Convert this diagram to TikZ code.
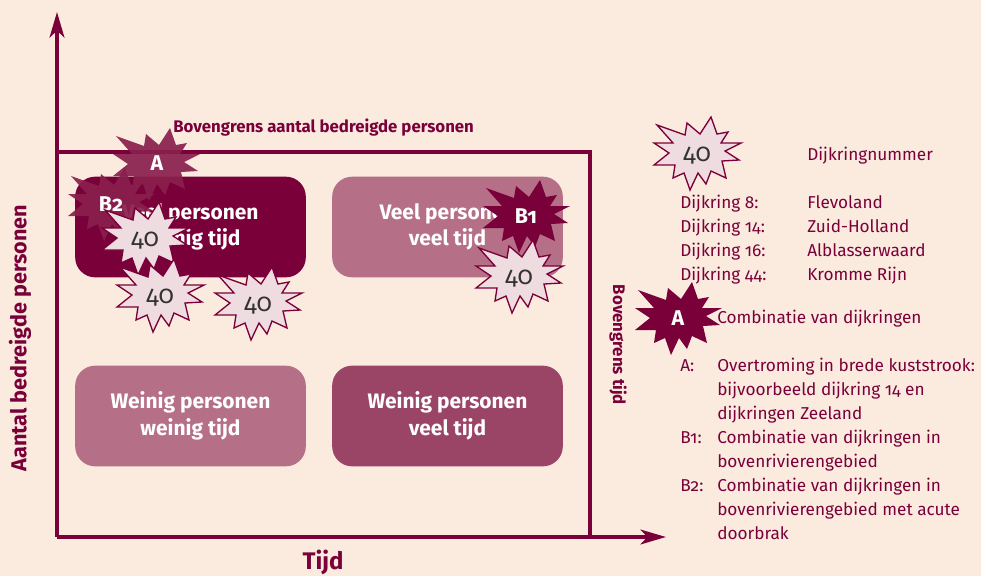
\documentclass[tikz,border=0pt]{standalone}
\usepackage{fontspec}
\setmainfont[Numbers=OldStyle]{Fira Sans}
\usetikzlibrary{arrows.meta}
\definecolor{paper}{HTML}{FBEBDF}
\definecolor{wine}{HTML}{7A0039}
\definecolor{winesoft}{HTML}{8A1F4D}
\definecolor{winemid}{HTML}{9A4565}
\definecolor{winelight}{HTML}{B56F87}
\definecolor{burstfill}{HTML}{EEDCE0}
\definecolor{burstnum}{HTML}{333333}
\tikzset{
  burst/.pic={
    \path[pic actions] (14,-36) -- (20,-19) -- (31,-21) -- (24,-10) -- (44,-10) -- (28,-2)
      -- (42,7) -- (25,8) -- (29,25) -- (14,18) -- (9,31) -- (1,20) -- (-7,37) -- (-13,20)
      -- (-24,25) -- (-22,12) -- (-43,12) -- (-28,0) -- (-43,-10) -- (-24,-10) -- (-40,-28)
      -- (-12,-18) -- (-10,-30) -- (3,-19) -- cycle;
  }
}
\begin{document}
\begin{tikzpicture}[x=0.75pt,y=-0.75pt,
    frameline/.style={draw=wine,line width=3pt},
    axisline/.style={frameline,-{Stealth[length=19pt,width=11pt,inset=5pt]}},
    box/.style={rounded corners=15pt,minimum width=173pt,minimum height=75.5pt,inner sep=0pt,
      align=center,text=white,font=\bfseries\fontsize{15.7}{20}\selectfont},
    axislabel/.style={text=wine,font=\bfseries\fontsize{16.2}{20}\selectfont,inner sep=0pt},
    limitlabel/.style={text=wine,font=\bfseries\fontsize{12.6}{14}\selectfont,inner sep=0pt},
    legend/.style={text=wine,anchor=base west,inner sep=0pt,font=\fontsize{12.9}{16}\selectfont},
    numberburst/.style={fill=burstfill,draw=wine,line width=1pt},
    combiburst/.style={fill=wine},
    seeburst/.style={fill=winesoft,fill opacity=.92},
    numberlabel/.style={text=burstnum,inner sep=0pt,yshift=-2pt,font=\fontsize{19}{20}\selectfont},
    combilabel/.style={text=white,inner sep=0pt,font=\bfseries\fontsize{16}{20}\selectfont}]
    \fill[paper] (0,0) rectangle (981,576);
    \useasboundingbox (0,0) rectangle (981,576);
    % axes and limits
    \coordinate (origin) at (57,537);
    \coordinate (ytop) at (57,12);
    \coordinate (xend) at (666,537);
    \coordinate (ylimit) at (57,152);
    \coordinate (corner) at (590,152);
    \coordinate (xlimit) at (590,537);
    \draw[frameline] (ylimit) -- (corner) -- (xlimit);
    \draw[axisline] (origin) -- (ytop);
    \draw[axisline] (origin) -- (xend);
    \node[axislabel,rotate=90] (ylabel) at (20,338) {Aantal bedreigde personen};
    \node[axislabel,font=\bfseries\fontsize{18}{20}\selectfont] (xlabel) at (323,562) {Tijd};
    \node[limitlabel,anchor=west] (ytoplabel) at (173,128) {Bovengrens aantal bedreigde personen};
    \node[limitlabel,rotate=-90] (xtoplabel) at (618,345) {Bovengrens tijd};
    % quadrants
    \node[box,fill=wine] (veelweinig) at (190.5,227) {Veel personen\\weinig tijd};
    \node[box,fill=winelight] (veelveel) at (447.5,227) {Veel personen\\veel tijd};
    \node[box,fill=winelight] (weinigweinig) at (190.5,416) {Weinig personen\\weinig tijd};
    \node[box,fill=winemid] (weinigveel) at (447.5,416) {Weinig personen\\veel tijd};
    % bursts
    \path (156,164) pic[seeburst] {burst};
    \node[combilabel] (burstA) at (157,163) {A};
    \path (111,204) pic[seeburst] {burst};
    \node[combilabel] (burstBtwo) at (111,204) {B2};
    \path (526,216) pic[combiburst] {burst};
    \node[combilabel] (burstBone) at (526,216) {B1};
    \foreach \name/\x/\y in {numa/145/238,numb/160/295,numc/258/303,numd/519/276,nume/697/153}{
        \path (\x,\y) pic[numberburst] {burst};
        \node[numberlabel] (\name) at (\x,\y) {40};
    }
    \path (678,318) pic[combiburst] {burst};
    \node[combilabel] (burstleg) at (678,318) {A};
    % legend
    \node[legend] (legnum) at (807,160) {Dijkringnummer};
    \foreach \name/\y/\nr/\place in {lega/208/8/Flevoland,legb/232/14/Zuid-Holland,legc/256/16/Alblasserwaard,legd/280/44/Kromme Rijn}{
        \node[legend] (\name) at (680,\y) {Dijkring \nr:};
        \node[legend] (\name place) at (807,\y) {\place};
    }
    \node[legend] (legcombi) at (717,323) {Combinatie van dijkringen};
    \foreach \name/\y/\key/\txt in {kA/371/A:/Overtroming in brede kuststrook:,kAb/395//bijvoorbeeld dijkring 14 en,kAc/419//dijkringen Zeeland,kB/443/B1:/Combinatie van dijkringen in,kBb/467//bovenrivierengebied,kC/491/B2:/Combinatie van dijkringen in,kCb/515//bovenrivierengebied met acute,kCc/539//doorbrak}{
        \node[legend] (\name key) at (680,\y) {\key};
        \node[legend] (\name) at (717,\y) {\txt};
    }
\end{tikzpicture}
\end{document}
